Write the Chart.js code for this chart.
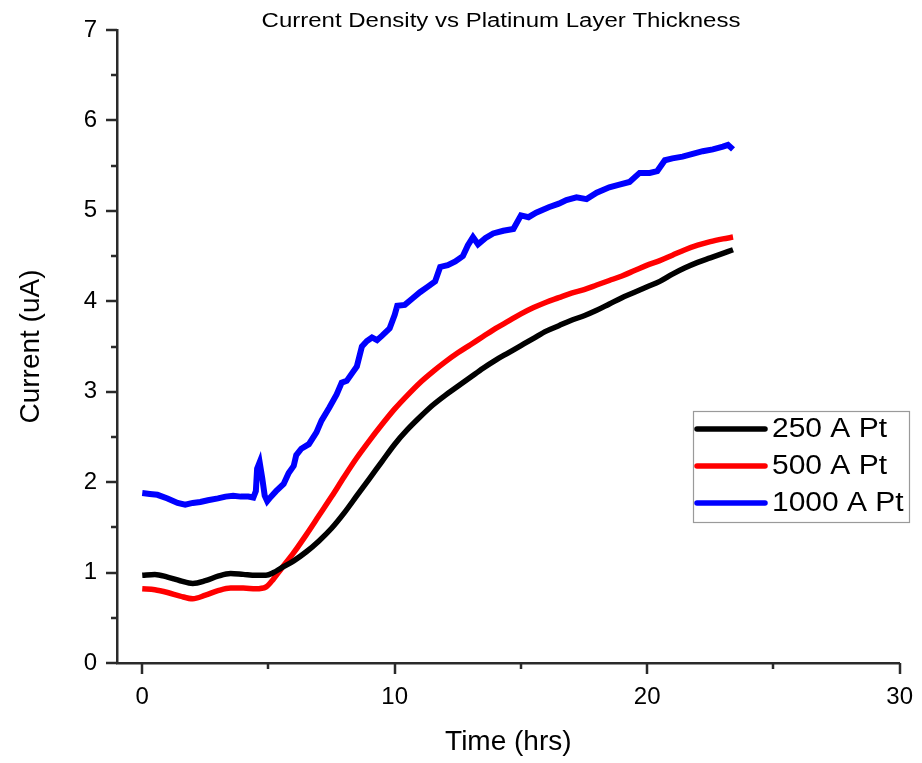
<!DOCTYPE html>
<html>
<head>
<meta charset="utf-8">
<script src="https://cdn.jsdelivr.net/npm/chart.js@4.4.1/dist/chart.umd.min.js"></script>
<style>
html,body{margin:0;padding:0;background:#fff;}
#wrap{width:922px;height:763px;position:relative;}
</style>
</head>
<body>
<div id="wrap"><canvas id="c" width="922" height="763"></canvas></div>
<script>
// ---- data ----
const chartTitle = "Current Density vs Platinum Layer Thickness";
const xTitle = "Time (hrs)";
const yTitle = "Current (uA)";
const seriesLabels = ["250 A Pt", "500 A Pt", "1000 A Pt"];

const timeSmooth = [0,0.5,1,1.5,2,2.5,3,3.5,4,4.5,4.9,5.2,5.5,6,6.5,7,7.5,8,8.5,9,9.5,10,10.5,11,11.5,12,12.5,13,13.5,14,14.5,15,15.5,16,16.5,17,17.5,18,18.5,19,19.5,20,20.5,21,21.5,22,22.5,23,23.4];
const current250 = [0.97,0.98,0.95,0.91,0.88,0.91,0.96,0.99,0.98,0.97,0.97,1.00,1.05,1.13,1.23,1.35,1.49,1.66,1.85,2.04,2.23,2.42,2.58,2.72,2.85,2.96,3.06,3.16,3.26,3.35,3.43,3.51,3.59,3.67,3.73,3.79,3.84,3.90,3.97,4.04,4.10,4.16,4.22,4.30,4.37,4.43,4.48,4.53,4.57];
const current500 = [0.82,0.81,0.78,0.74,0.71,0.75,0.80,0.83,0.83,0.82,0.84,0.93,1.04,1.22,1.42,1.63,1.84,2.06,2.27,2.46,2.64,2.81,2.96,3.10,3.22,3.33,3.43,3.52,3.61,3.70,3.78,3.86,3.93,3.99,4.04,4.09,4.13,4.18,4.23,4.28,4.34,4.40,4.45,4.51,4.57,4.62,4.66,4.69,4.71];

const timeBlue = [0,0.3,0.6,1.0,1.4,1.7,2.0,2.3,2.6,3.0,3.3,3.6,3.9,4.2,4.4,4.5,4.55,4.65,4.75,4.85,4.95,5.1,5.3,5.6,5.8,6.0,6.1,6.3,6.6,6.9,7.1,7.4,7.7,7.9,8.1,8.3,8.5,8.7,8.9,9.1,9.3,9.5,9.8,10.0,10.1,10.4,10.7,11.0,11.3,11.6,11.8,12.1,12.4,12.7,12.9,13.1,13.3,13.6,13.9,14.3,14.7,15.0,15.3,15.6,16.1,16.5,16.8,17.2,17.6,18.0,18.5,18.9,19.3,19.7,20.1,20.4,20.7,21.0,21.4,21.8,22.2,22.6,23.0,23.2,23.4];
const current1000 = [1.88,1.87,1.86,1.82,1.77,1.75,1.77,1.78,1.80,1.82,1.84,1.85,1.84,1.84,1.83,1.90,2.15,2.22,2.05,1.85,1.79,1.84,1.90,1.98,2.10,2.18,2.30,2.37,2.42,2.55,2.68,2.82,2.97,3.10,3.12,3.20,3.28,3.50,3.56,3.60,3.57,3.62,3.70,3.85,3.95,3.96,4.03,4.10,4.16,4.22,4.38,4.40,4.44,4.50,4.62,4.71,4.63,4.70,4.75,4.78,4.80,4.95,4.93,4.98,5.04,5.08,5.12,5.15,5.13,5.20,5.26,5.29,5.32,5.42,5.42,5.44,5.56,5.58,5.60,5.63,5.66,5.68,5.71,5.73,5.68];

const xTicks = [0,5,10,15,20,25,30];
const xLabelled = [0,10,20,30];
const yTicks = [0,0.5,1,1.5,2,2.5,3,3.5,4,4.5,5,5.5,6,6.5,7];
const yLabelled = [0,1,2,3,4,5,6,7];

function pts(xs, ys){ return xs.map((x,i)=>({x:x, y:ys[i]})); }

const FONT = "'Liberation Sans', Arial, sans-serif";
const AXIS = '#2a2a2a';

// custom tick marks (major/minor lengths)
const tickPlugin = {
  id: 'tickMarks',
  afterDraw(chart){
    const ctx = chart.ctx, ca = chart.chartArea;
    const xs = chart.scales.x, ys = chart.scales.y;
    ctx.save();
    ctx.strokeStyle = AXIS; ctx.lineWidth = 2.5; ctx.lineCap = 'butt';
    xTicks.forEach(v=>{
      const p = Math.round(xs.getPixelForValue(v));
      const len = xLabelled.includes(v) ? 11 : 6;
      ctx.beginPath(); ctx.moveTo(p, ca.bottom); ctx.lineTo(p, ca.bottom+len); ctx.stroke();
    });
    yTicks.forEach(v=>{
      const p = Math.round(ys.getPixelForValue(v));
      const len = yLabelled.includes(v) ? 11 : 6;
      ctx.beginPath(); ctx.moveTo(ca.left, p); ctx.lineTo(ca.left-len, p); ctx.stroke();
    });
    ctx.restore();
  }
};

// horizontally widened text (reference glyphs are wider than tall)
function wideText(ctx, text, x, y, sx, align){
  ctx.save();
  ctx.translate(x, y);
  ctx.scale(sx, 1);
  ctx.textAlign = align;
  ctx.fillText(text, 0, 0);
  ctx.restore();
}

// title + legend box drawn inside plot
const decoPlugin = {
  id: 'deco',
  afterDraw(chart){
    const ctx = chart.ctx;
    ctx.save();
    ctx.fillStyle = '#000';
    ctx.font = "20px " + FONT;
    ctx.textBaseline = 'middle';
    wideText(ctx, chartTitle, 501, 21, 1.2, 'center');

    // legend
    const bx = 693, by = 411, bw = 216, bh = 111;
    ctx.fillStyle = '#fff';
    ctx.fillRect(bx, by, bw, bh);
    ctx.strokeStyle = '#9a9a9a'; ctx.lineWidth = 1.2;
    ctx.strokeRect(bx+0.5, by+0.5, bw, bh);
    const rows = [429, 466, 503];
    ctx.font = "27px " + FONT;
    ctx.textBaseline = 'middle';
    chart.data.datasets.forEach((ds,i)=>{
      ctx.strokeStyle = ds.borderColor; ctx.lineWidth = 5.5; ctx.lineCap = 'round';
      ctx.beginPath(); ctx.moveTo(697, rows[i]); ctx.lineTo(765, rows[i]); ctx.stroke();
      ctx.fillStyle = '#000';
      wideText(ctx, ds.label, 772, rows[i]+1, 1.11, 'left');
    });
    ctx.restore();
  }
};

new Chart(document.getElementById('c'), {
  type: 'line',
  data: {
    datasets: [
      {label: seriesLabels[0], data: pts(timeSmooth, current250), borderColor: '#000000', backgroundColor:'#000000', borderWidth: 5.5, pointRadius: 0, tension: 0.3, cubicInterpolationMode: 'monotone'},
      {label: seriesLabels[1], data: pts(timeSmooth, current500), borderColor: '#ff0000', backgroundColor:'#ff0000', borderWidth: 5.5, pointRadius: 0, tension: 0.3, cubicInterpolationMode: 'monotone'},
      {label: seriesLabels[2], data: pts(timeBlue, current1000), borderColor: '#0000ff', backgroundColor:'#0000ff', borderWidth: 6, pointRadius: 0, tension: 0}
    ]
  },
  options: {
    responsive: false,
    animation: false,
    layout: {padding: {top: 30, right: 17, left: 0, bottom: 0}},
    plugins: {legend: {display: false}, title: {display: false}, tooltip: {enabled: false}},
    scales: {
      x: {
        type: 'linear', min: -1, max: 30,
        afterBuildTicks(s){ s.ticks = xTicks.map(v=>({value:v})); },
        afterFit(s){ s.height = 100; },
        grid: {display: true, drawOnChartArea: false, drawTicks: true, tickLength: 11, color: 'rgba(0,0,0,0)', tickColor: 'rgba(0,0,0,0)'},
        border: {display: true, color: AXIS, width: 2.5},
        ticks: {
          color: '#000', font: {family: FONT, size: 24}, padding: 9, maxRotation: 0, autoSkip: false,
          callback(v){ return xLabelled.includes(v) ? String(v) : ''; }
        },
        title: {display: true, text: xTitle, color: '#000', font: {family: FONT, size: 28}, padding: {top: 0, bottom: 4}}
      },
      y: {
        type: 'linear', min: 0, max: 7,
        afterBuildTicks(s){ s.ticks = yTicks.map(v=>({value:v})); },
        afterFit(s){ s.width = 117; },
        grid: {display: true, drawOnChartArea: false, drawTicks: true, tickLength: 11, color: 'rgba(0,0,0,0)', tickColor: 'rgba(0,0,0,0)'},
        border: {display: true, color: AXIS, width: 2.5},
        ticks: {
          color: '#000', font: {family: FONT, size: 24}, padding: 9, autoSkip: false,
          callback(v){ return yLabelled.includes(v) ? String(v) : ''; }
        },
        title: {display: true, text: yTitle, color: '#000', font: {family: FONT, size: 28}, padding: {top: 14, bottom: 0}}
      }
    }
  },
  plugins: [tickPlugin, decoPlugin]
});
</script>
</body>
</html>
